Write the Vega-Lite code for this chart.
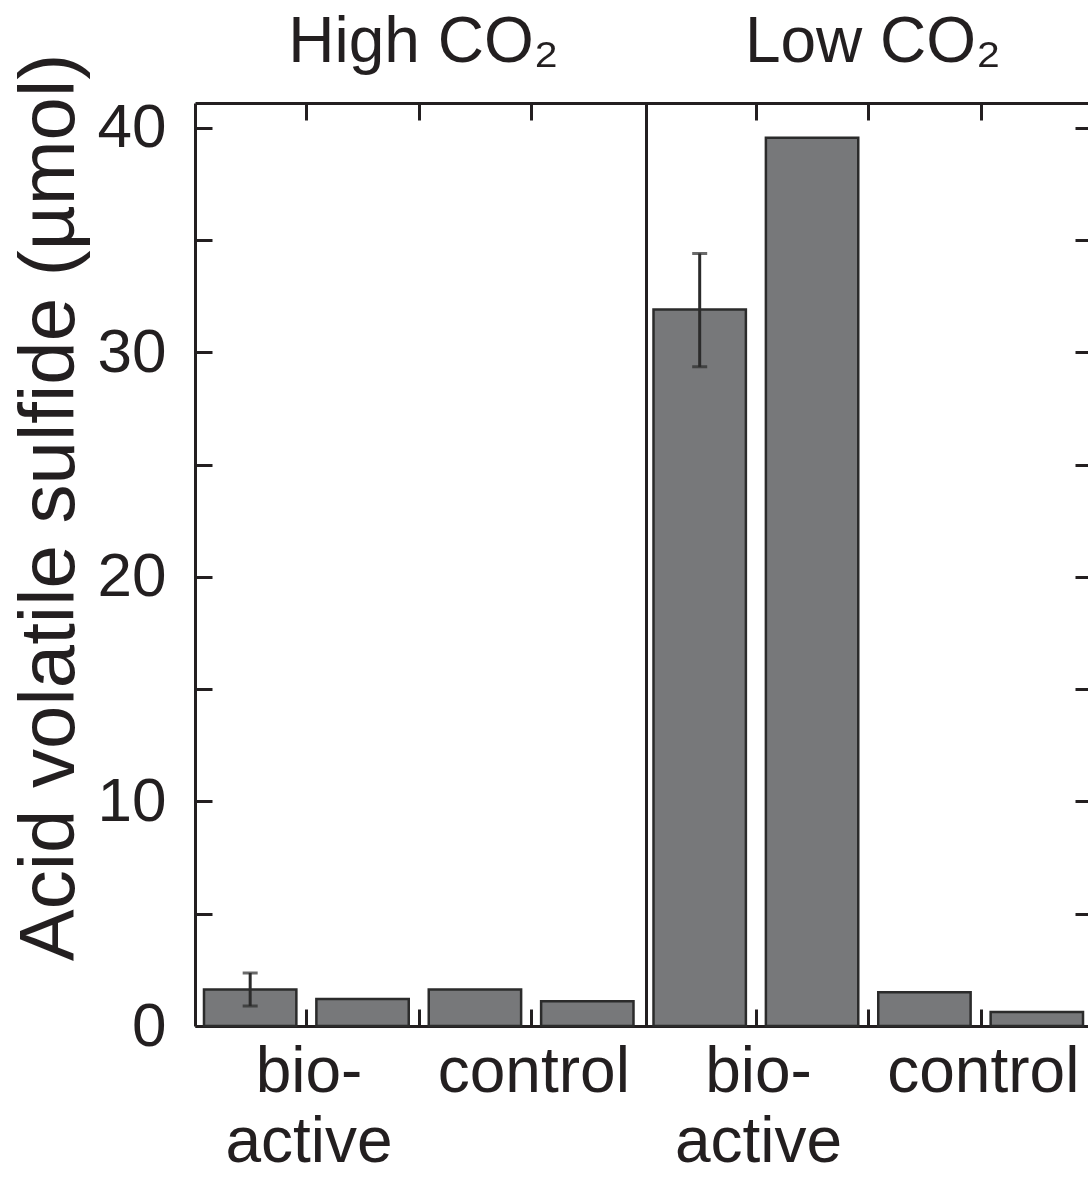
{
  "$schema": "https://vega.github.io/schema/vega-lite/v6.json",
  "width": 897,
  "height": 923,
  "padding": {"left": 11, "top": 10, "right": 0, "bottom": 0},
  "background": "white",
  "config": {
    "view": {"stroke": null},
    "font": "Liberation Sans",
    "axis": {
      "domainColor": "#231f20",
      "domainWidth": 3,
      "tickColor": "#231f20",
      "tickWidth": 3,
      "labelColor": "#231f20",
      "titleColor": "#231f20",
      "labelFont": "Liberation Sans",
      "titleFont": "Liberation Sans",
      "labelLimit": 0,
      "grid": false
    }
  },
  "data": {
    "values": [
      {"id": "H-bio-1", "co2": "High CO2", "treatment": "bio-active", "value": 1.62, "lo": 0.89, "hi": 2.36},
      {"id": "H-bio-2", "co2": "High CO2", "treatment": "bio-active", "value": 1.2},
      {"id": "H-ctrl-1", "co2": "High CO2", "treatment": "control", "value": 1.62},
      {"id": "H-ctrl-2", "co2": "High CO2", "treatment": "control", "value": 1.1},
      {"id": "L-bio-1", "co2": "Low CO2", "treatment": "bio-active", "value": 31.9, "lo": 29.35, "hi": 34.4},
      {"id": "L-bio-2", "co2": "Low CO2", "treatment": "bio-active", "value": 39.55},
      {"id": "L-ctrl-1", "co2": "Low CO2", "treatment": "control", "value": 1.5},
      {"id": "L-ctrl-2", "co2": "Low CO2", "treatment": "control", "value": 0.62}
    ]
  },
  "layer": [
    {
      "mark": {"type": "bar", "fill": "#77787a", "stroke": "#2b2b2b", "strokeWidth": 2.5},
      "encoding": {
        "x": {
          "field": "id",
          "type": "nominal",
          "scale": {
            "domain": ["H-bio-1", "H-bio-2", "H-ctrl-1", "H-ctrl-2", "L-bio-1", "L-bio-2", "L-ctrl-1", "L-ctrl-2"],
            "paddingInner": 0.178,
            "paddingOuter": 0.08
          },
          "axis": {
            "orient": "bottom",
            "title": null,
            "values": ["H-bio-2", "H-ctrl-1", "H-ctrl-2", "L-bio-2", "L-ctrl-1", "L-ctrl-2"],
            "bandPosition": 0,
            "tickOffset": -10,
            "labelOffset": -44,
            "tickSize": -17,
            "labelAngle": 0,
            "labelAlign": "center",
            "labelFontSize": 64,
            "labelPadding": 31,
            "labelLineHeight": 70,
            "labelBaseline": "top",
            "labelExpr": "(datum.value == 'H-bio-2' || datum.value == 'L-bio-2') ? ['bio-', 'active'] : ((datum.value == 'H-ctrl-2' || datum.value == 'L-ctrl-2') ? 'control' : '')"
          }
        },
        "y": {
          "field": "value",
          "type": "quantitative",
          "scale": {"domain": [0, 41.1], "nice": false, "zero": true},
          "axis": {
            "orient": "left",
            "title": "Acid volatile sulfide (µmol)",
            "titleFontSize": 78,
            "titleFontWeight": "normal",
            "titlePadding": 8,
            "titleY": 404,
            "values": [0, 5, 10, 15, 20, 25, 30, 35, 40],
            "tickSize": -17,
            "labelFontSize": 62,
            "labelPadding": 46,
            "labelExpr": "datum.value % 10 === 0 ? datum.label : ''"
          }
        }
      }
    },
    {
      "transform": [{"filter": "isValid(datum.lo)"}],
      "mark": {"type": "rule", "stroke": "#2b2b2b", "strokeWidth": 3},
      "encoding": {
        "x": {
          "field": "id",
          "type": "nominal",
          "axis": {
            "orient": "top",
            "title": null,
            "values": ["H-bio-2", "H-ctrl-1", "H-ctrl-2", "L-bio-2", "L-ctrl-1", "L-ctrl-2"],
            "bandPosition": 0,
            "tickOffset": -10,
            "labelOffset": -42,
            "tickSize": -17,
            "labelAngle": 0,
            "labelAlign": "center",
            "labelFontSize": 64,
            "labelPadding": 46,
            "labelExpr": "datum.value == 'H-ctrl-1' ? 'High CO₂' : (datum.value == 'L-ctrl-1' ? 'Low CO₂' : '')"
          }
        },
        "y": {
          "field": "lo",
          "type": "quantitative",
          "axis": {
            "orient": "right",
            "title": null,
            "values": [0, 5, 10, 15, 20, 25, 30, 35, 40],
            "tickSize": -17,
            "labels": false
          }
        },
        "y2": {"field": "hi"}
      }
    },
    {
      "transform": [{"filter": "isValid(datum.lo)"}],
      "mark": {"type": "tick", "color": "#2b2b2b", "size": 15, "thickness": 3, "orient": "horizontal"},
      "encoding": {
        "x": {"field": "id", "type": "nominal", "axis": null},
        "y": {"field": "lo", "type": "quantitative", "axis": null}
      }
    },
    {
      "transform": [{"filter": "isValid(datum.lo)"}],
      "mark": {"type": "tick", "color": "#2b2b2b", "size": 15, "thickness": 3, "orient": "horizontal"},
      "encoding": {
        "x": {"field": "id", "type": "nominal", "axis": null},
        "y": {"field": "hi", "type": "quantitative", "axis": null}
      }
    },
    {
      "mark": {"type": "rule", "stroke": "#231f20", "strokeWidth": 2.5, "xOffset": -7},
      "encoding": {
        "x": {"datum": "L-bio-1", "type": "nominal", "bandPosition": 0, "axis": null}
      }
    }
  ],
  "resolve": {"axis": {"x": "independent", "y": "independent"}}
}
